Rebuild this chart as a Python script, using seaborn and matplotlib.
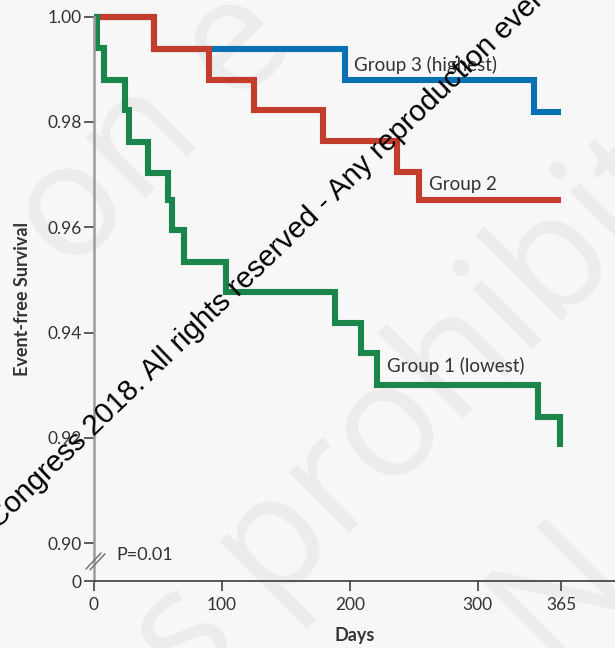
import matplotlib
matplotlib.use("Agg")
import matplotlib.pyplot as plt
from matplotlib.lines import Line2D
import pandas as pd
import seaborn as sns

# Event-free survival by group (Kaplan-Meier steps: day of event, survival after it)
group_names = ["Group 3 (highest)", "Group 2", "Group 1 (lowest)"]

g3_days = [0, 47, 196, 344, 365]
g3_surv = [1.000, 0.9939, 0.9880, 0.9819, 0.9819]

g2_days = [0, 47, 89.5, 125, 179, 237, 254, 365]
g2_surv = [1.000, 0.9939, 0.9880, 0.9822, 0.9764, 0.9705, 0.9652, 0.9652]

g1_days = [0, 2, 8, 24, 27, 42, 58, 61, 70, 103, 188, 209, 221, 347, 364]
g1_surv = [1.000, 0.9941, 0.9880, 0.9823, 0.9762, 0.9703, 0.9652, 0.9595,
           0.9534, 0.9477, 0.9418, 0.9361, 0.9301, 0.9240, 0.9183]

x_ticks = [0, 100, 200, 300, 365]
y_ticks = [0.90, 0.92, 0.94, 0.96, 0.98, 1.00]
p_text = "P=0.01"

palette = {"Group 3 (highest)": "#0a70b4",
           "Group 2": "#c23d2b",
           "Group 1 (lowest)": "#1a864c"}

sns.set_style("white")
plt.rcParams["font.family"] = ["Lato", "DejaVu Sans"]

BG = "#f7f7f7"
INK = "#333333"
W, H = 615, 648


def fx(px):
    return px / W


def fy(py):
    return 1 - py / H


fig = plt.figure(figsize=(W / 100, H / 100), dpi=100)
fig.patch.set_facecolor(BG)

# faint background watermark
for txt, cx, cy in [("on e", 154, 131), ("s prohibit", 410, 414), ("N", 560, 590)]:
    fig.text(fx(cx), fy(cy), txt, rotation=45, rotation_mode="anchor",
             ha="center", va="center", fontsize=115, color="#ececec",
             family=["Open Sans", "DejaVu Sans"], zorder=-5)

ax = fig.add_axes([fx(94), fy(581), (W - 94) / W, (581 - 16.7) / H])
ax.patch.set_alpha(0)

frames = [pd.DataFrame({"Days": d, "Survival": s, "Group": n})
          for n, d, s in zip(group_names, [g3_days, g2_days, g1_days],
                             [g3_surv, g2_surv, g1_surv])]
df = pd.concat(frames, ignore_index=True)

sns.lineplot(data=df, x="Days", y="Survival", hue="Group", hue_order=group_names,
             palette=palette, estimator=None, sort=False, drawstyle="steps-post",
             linewidth=4.4, legend=False, ax=ax)
for ln in ax.lines:
    ln.set_clip_on(False)
    ln.set_solid_joinstyle("miter")
    ln.set_solid_capstyle("butt")

# broken y axis: bottom of the axis stands for 0
y_zero = 0.8928
ax.set_xlim(0, 407.2)
ax.set_ylim(y_zero, 1.0)
ax.set_xticks(x_ticks)
ax.set_xticklabels([str(v) for v in x_ticks])
ax.set_yticks([y_zero] + y_ticks)
ax.set_yticklabels(["0"] + [f"{v:.2f}" for v in y_ticks])

for side in ("top", "right"):
    ax.spines[side].set_visible(False)
ax.spines["left"].set_color("#9c9c9c")
ax.spines["left"].set_linewidth(1.8)
ax.spines["bottom"].set_color("#3a3a3a")
ax.spines["bottom"].set_linewidth(1.2)

ax.tick_params(axis="y", length=7.5, width=1.1, color=INK, pad=1.5,
               labelsize=12.5, labelcolor=INK, left=True)
ax.tick_params(axis="x", length=7.5, width=1.1, color=INK, pad=4,
               labelsize=12.5, labelcolor=INK, bottom=True)

ax.set_xlabel("Days", fontsize=13, fontweight="bold", color=INK, va="center")
ax.xaxis.set_label_coords((355 - 94) / (W - 94), (581 - 636) / (581 - 16.7))
ax.set_ylabel("Event-free Survival", fontsize=13, fontweight="bold",
              color=INK, va="center", ha="center")
ax.yaxis.set_label_coords((23 - 94) / (W - 94), (581 - 299) / (581 - 16.7))

# curve labels
ax.text(203.6, 0.9908, "Group 3 (highest)", fontsize=13.5, color=INK, va="center")
ax.text(261.8, 0.9682, "Group 2", fontsize=13.5, color=INK, va="center")
ax.text(229.0, 0.9337, "Group 1 (lowest)", fontsize=13.5, color=INK, va="center")
ax.text(17.2, 0.8977, p_text, fontsize=13, color=INK, va="center")

# axis break marks
for off in (0, 4):
    fig.add_artist(Line2D([fx(86 + off), fx(101 + off)], [fy(569 + off * 0.2), fy(553 + off * 0.2)],
                          color="#777777", linewidth=1.1))

# copyright line across the chart
fig.text(fx(268), fy(257),
         "Congress 2018. All rights reserved - Any reproduction even",
         rotation=44, rotation_mode="anchor", ha="center", va="center",
         fontsize=21.2, color="black", family=["Liberation Sans", "DejaVu Sans"],
         zorder=10)

fig.savefig("out.png", dpi=100, facecolor=BG)
